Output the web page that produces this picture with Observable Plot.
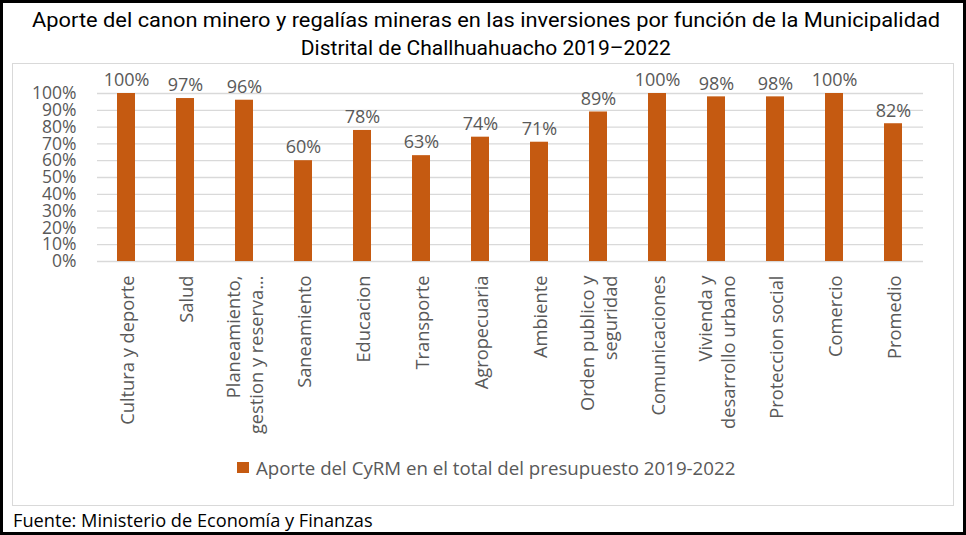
<!DOCTYPE html>
<html><head><meta charset="utf-8">
<script src="https://cdn.jsdelivr.net/npm/d3@7"></script>
<script src="https://cdn.jsdelivr.net/npm/@observablehq/plot@0.6"></script>
<style>
html,body{margin:0;padding:0;background:#fff;}
#frame{position:relative;width:966px;height:535px;box-sizing:border-box;border:3px solid #000;overflow:hidden;font-family:"Open Sans",sans-serif;color:#595959;}
#title{position:absolute;left:0;top:3px;width:966px;text-align:center;font-family:Roboto,"Liberation Sans",sans-serif;font-size:21px;line-height:28px;color:#000;}
#title .ln{display:block;white-space:nowrap;}
#title .ln span{display:inline-block;transform-origin:center;}
#inner{position:absolute;left:9px;top:60px;width:942px;height:443px;border:1px solid #d9d9d9;box-sizing:border-box;}
#plot{position:absolute;left:0;top:0;}
#legend{position:absolute;left:234px;top:452px;height:24px;display:flex;align-items:center;font-size:18.7px;white-space:nowrap;}
#legend .sw{width:12px;height:11px;background:#C55A11;margin-right:7px;}
#footer{position:absolute;left:10px;top:507px;font-size:18.2px;line-height:20px;color:#000;white-space:nowrap;}
</style>
</head><body>
<div id="frame">
  <div id="title"><div class="ln"><span id="t1">Aporte del canon minero y regalías mineras en las inversiones por función de la Municipalidad</span></div><div class="ln"><span id="t2">Distrital de Challhuahuacho 2019–2022</span></div></div>
  <div id="inner"><div id="plot"></div></div>
  <div id="legend"><div class="sw"></div><span id="legtext"></span></div>
  <div id="footer">Fuente: Ministerio de Economía y Finanzas</div>
</div>
<script>
const categories = [
  "Cultura y deporte",
  "Salud",
  "Planeamiento,\ngestion y reserva…",
  "Saneamiento",
  "Educacion",
  "Transporte",
  "Agropecuaria",
  "Ambiente",
  "Orden publico y\nseguridad",
  "Comunicaciones",
  "Vivienda y\ndesarrollo urbano",
  "Proteccion social",
  "Comercio",
  "Promedio"
];
const values = [100, 97, 96, 60, 78, 63, 74, 71, 89, 100, 98, 98, 100, 82];
const yTicks = [0, 10, 20, 30, 40, 50, 60, 70, 80, 90, 100];
const seriesName = "Aporte del CyRM en el total del presupuesto 2019-2022";

const data = categories.map((c, i) => ({category: c, value: values[i]}));
document.getElementById("legtext").textContent = seriesName;

const chart = Plot.plot({
  width: 940,
  height: 390,
  marginLeft: 84,
  marginRight: 30,
  marginTop: 29,
  marginBottom: 193,
  style: {fontFamily: "'Open Sans', sans-serif", color: "#595959", background: "transparent"},
  x: {type: "band", domain: categories, paddingInner: 0.69, paddingOuter: 0.345, label: null},
  y: {domain: [0, 100], label: null},
  marks: [
    Plot.gridY(yTicks, {stroke: "#d9d9d9", strokeOpacity: 1, strokeWidth: 1.3}),
    Plot.barY(data, {x: "category", y: "value", fill: "#C55A11"}),
    Plot.text(data, {x: "category", y: "value", text: d => d.value + "%", dy: -13, fontSize: 18, fill: "#595959"}),
    Plot.axisY({ticks: yTicks, tickFormat: d => d + "%", tickSize: 0, tickPadding: 21, fontSize: 17.5, fill: "#595959", label: null}),
    Plot.axisX({tickRotate: -90, tickSize: 0, tickPadding: 14, fontSize: 18.3, lineHeight: 1.25, fill: "#595959", label: null})
  ]
});
document.getElementById("plot").appendChild(chart);

// fit title line widths to the reference
const t1 = document.getElementById("t1"), t2 = document.getElementById("t2");
t1.style.transform = `scaleX(${908 / t1.getBoundingClientRect().width})`;
t2.style.transform = `scaleX(${370 / t2.getBoundingClientRect().width})`;
</script>
</body></html>
